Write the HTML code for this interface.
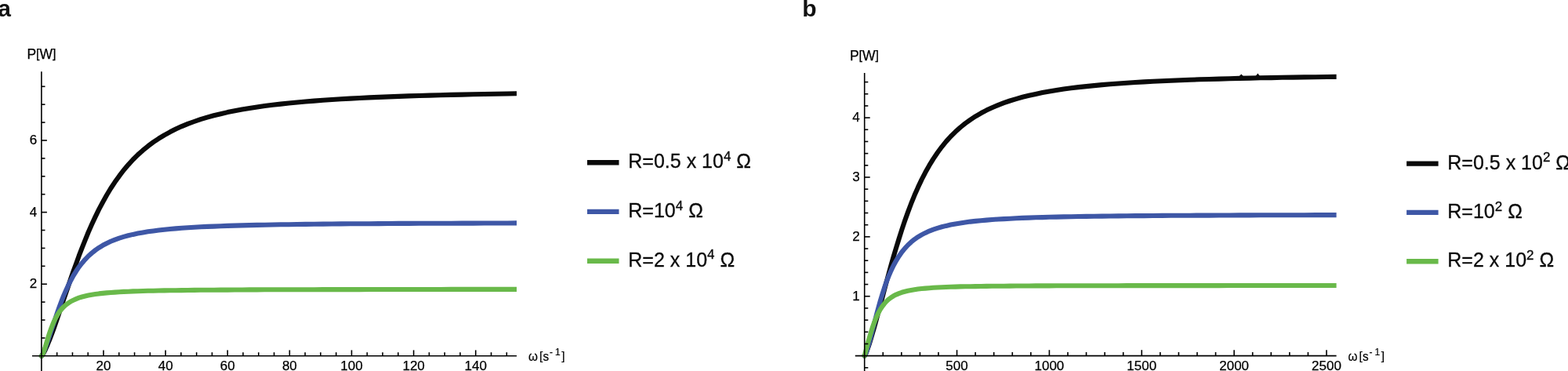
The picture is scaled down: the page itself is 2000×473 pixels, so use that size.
<!DOCTYPE html>
<html><head><meta charset="utf-8"><title>Power vs angular frequency</title><style>
html,body{margin:0;padding:0;background:#fff;}
body{width:2000px;height:473px;overflow:hidden;}
svg{display:block;}
text{font-family:"Liberation Sans", Arial, Helvetica, sans-serif;fill:#000;}
.t{font-size:17px;stroke:#000;stroke-width:0.25px;}
.lg{font-size:25px;fill:#0a0a0a;stroke:#0a0a0a;stroke-width:0.3px;}
.pl{font-size:30px;font-weight:bold;fill:#111;}
.ax{font-size:17px;stroke:#000;stroke-width:0.2px;}
.axb{font-size:15.5px;stroke:#000;stroke-width:0.2px;}
.axs{font-size:12px;stroke:#000;stroke-width:0.2px;}
</style></head><body>
<svg width="2000" height="473" viewBox="0 0 2000 473">
<defs><clipPath id="clL"><rect x="0" y="0" width="659.0" height="473"/></clipPath><clipPath id="clR"><rect x="1000" y="0" width="704.5999999999999" height="473"/></clipPath></defs>
<path d="M52.9,453.8 52.9,453.8 53.0,453.7 53.3,453.5 53.6,453.2 54.0,452.6 54.5,451.9 55.2,450.8 55.9,449.4 56.8,447.7 57.9,445.6 59.0,443.1 60.3,440.2 61.7,436.7 63.3,432.8 65.0,428.4 66.9,423.4 68.9,417.9 71.0,411.9 73.3,405.3 75.7,398.2 78.3,390.5 81.0,382.4 83.9,373.9 87.0,364.9 90.2,355.6 93.5,346.0 97.1,336.2 100.7,326.2 104.6,316.1 108.6,306.1 112.7,296.0 117.1,286.1 121.6,276.4 126.2,266.9 131.1,257.7 136.1,248.8 141.2,240.3 146.6,232.1 152.1,224.4 157.7,217.0 163.6,210.1 169.6,203.5 175.8,197.4 182.2,191.7 188.8,186.3 195.5,181.3 202.4,176.7 209.5,172.3 216.8,168.3 224.2,164.6 231.8,161.1 239.6,157.9 247.6,155.0 255.8,152.2 264.2,149.7 272.7,147.3 281.4,145.2 290.3,143.1 299.5,141.3 308.7,139.5 318.2,137.9 327.9,136.4 337.7,135.1 347.8,133.8 358.0,132.6 368.4,131.5 379.0,130.5 389.8,129.5 400.8,128.6 412.0,127.8 423.4,127.0 435.0,126.3 446.8,125.6 458.7,125.0 470.9,124.4 483.2,123.9 495.8,123.4 508.6,122.9 521.5,122.4 534.7,122.0 548.0,121.6 561.6,121.3 575.3,120.9 589.2,120.6 603.4,120.3 617.7,120.0 632.3,119.7 647.0,119.5 662.0,119.2" fill="none" stroke="#0a0a0a" stroke-width="6.1" stroke-linejoin="round" stroke-linecap="round" clip-path="url(#clL)"/>
<path d="M52.9,453.8 52.9,453.8 53.0,453.7 53.3,453.4 53.6,453.0 54.0,452.3 54.5,451.3 55.2,449.9 55.9,448.2 56.8,446.0 57.9,443.3 59.0,440.2 60.3,436.5 61.7,432.4 63.3,427.7 65.0,422.6 66.9,416.9 68.9,410.9 71.0,404.6 73.3,398.0 75.7,391.2 78.3,384.3 81.0,377.4 83.9,370.7 87.0,364.0 90.2,357.7 93.5,351.6 97.1,345.8 100.7,340.4 104.6,335.4 108.6,330.8 112.7,326.5 117.1,322.6 121.6,319.0 126.2,315.8 131.1,312.8 136.1,310.2 141.2,307.8 146.6,305.6 152.1,303.6 157.7,301.9 163.6,300.3 169.6,298.9 175.8,297.6 182.2,296.4 188.8,295.3 195.5,294.4 202.4,293.5 209.5,292.7 216.8,292.0 224.2,291.4 231.8,290.8 239.6,290.3 247.6,289.8 255.8,289.3 264.2,288.9 272.7,288.6 281.4,288.2 290.3,287.9 299.5,287.6 308.7,287.4 318.2,287.1 327.9,286.9 337.7,286.7 347.8,286.5 358.0,286.3 368.4,286.2 379.0,286.0 389.8,285.9 400.8,285.8 412.0,285.6 423.4,285.5 435.0,285.4 446.8,285.3 458.7,285.2 470.9,285.2 483.2,285.1 495.8,285.0 508.6,284.9 521.5,284.9 534.7,284.8 548.0,284.8 561.6,284.7 575.3,284.7 589.2,284.6 603.4,284.6 617.7,284.5 632.3,284.5 647.0,284.5 662.0,284.4" fill="none" stroke="#3e57a6" stroke-width="6.1" stroke-linejoin="round" stroke-linecap="round" clip-path="url(#clL)"/>
<path d="M52.9,453.8 52.9,453.8 53.0,453.7 53.3,453.6 53.6,453.2 54.0,452.5 54.5,451.5 55.2,450.0 55.9,447.9 56.8,445.2 57.9,441.9 59.0,438.1 60.3,433.8 61.7,429.2 63.3,424.3 65.0,419.4 66.9,414.5 68.9,409.8 71.0,405.5 73.3,401.4 75.7,397.7 78.3,394.4 81.0,391.4 83.9,388.8 87.0,386.5 90.2,384.4 93.5,382.7 97.1,381.1 100.7,379.7 104.6,378.5 108.6,377.5 112.7,376.6 117.1,375.8 121.6,375.1 126.2,374.4 131.1,373.9 136.1,373.4 141.2,373.0 146.6,372.6 152.1,372.2 157.7,371.9 163.6,371.7 169.6,371.4 175.8,371.2 182.2,371.0 188.8,370.8 195.5,370.7 202.4,370.5 209.5,370.4 216.8,370.3 224.2,370.2 231.8,370.1 239.6,370.0 247.6,369.9 255.8,369.8 264.2,369.7 272.7,369.7 281.4,369.6 290.3,369.6 299.5,369.5 308.7,369.5 318.2,369.4 327.9,369.4 337.7,369.3 347.8,369.3 358.0,369.3 368.4,369.2 379.0,369.2 389.8,369.2 400.8,369.2 412.0,369.1 423.4,369.1 435.0,369.1 446.8,369.1 458.7,369.1 470.9,369.0 483.2,369.0 495.8,369.0 508.6,369.0 521.5,369.0 534.7,369.0 548.0,369.0 561.6,369.0 575.3,368.9 589.2,368.9 603.4,368.9 617.7,368.9 632.3,368.9 647.0,368.9 662.0,368.9" fill="none" stroke="#69b94a" stroke-width="6.1" stroke-linejoin="round" stroke-linecap="round" clip-path="url(#clL)"/>
<path d="M1102.7,453.6 1102.7,453.6 1102.8,453.5 1103.0,453.2 1103.4,452.6 1103.8,451.8 1104.3,450.7 1105.0,449.2 1105.7,447.2 1106.6,444.8 1107.6,441.9 1108.8,438.4 1110.1,434.4 1111.5,429.7 1113.0,424.5 1114.7,418.6 1116.6,412.0 1118.5,404.8 1120.7,396.9 1122.9,388.5 1125.4,379.4 1127.9,369.8 1130.6,359.7 1133.5,349.2 1136.5,338.3 1139.7,327.2 1143.1,315.9 1146.6,304.5 1150.2,293.1 1154.0,281.8 1158.0,270.6 1162.1,259.7 1166.4,249.1 1170.9,238.9 1175.5,229.1 1180.3,219.8 1185.3,210.9 1190.4,202.6 1195.7,194.7 1201.2,187.3 1206.8,180.4 1212.6,174.0 1218.6,168.1 1224.8,162.5 1231.1,157.4 1237.6,152.7 1244.3,148.3 1251.2,144.3 1258.2,140.6 1265.4,137.2 1272.8,134.1 1280.4,131.2 1288.2,128.5 1296.1,126.1 1304.2,123.8 1312.5,121.8 1321.0,119.9 1329.7,118.1 1338.5,116.5 1347.5,115.0 1356.8,113.6 1366.2,112.3 1375.8,111.1 1385.6,110.1 1395.5,109.1 1405.7,108.1 1416.0,107.3 1426.6,106.5 1437.3,105.7 1448.2,105.0 1459.3,104.4 1470.7,103.8 1482.2,103.2 1493.8,102.7 1505.7,102.2 1517.8,101.8 1530.1,101.3 1542.6,101.0 1555.2,100.6 1568.1,100.2 1581.1,99.9 1594.4,99.6 1607.8,99.3 1621.5,99.1 1635.3,98.8 1649.4,98.6 1663.6,98.4 1678.1,98.2 1692.7,98.0 1707.6,97.8" fill="none" stroke="#0a0a0a" stroke-width="6.1" stroke-linejoin="round" stroke-linecap="round" clip-path="url(#clR)"/>
<path d="M1102.7,453.6 1102.7,453.6 1102.8,453.5 1103.0,453.2 1103.4,452.8 1103.8,452.0 1104.3,450.8 1105.0,449.1 1105.7,447.0 1106.6,444.2 1107.6,440.8 1108.8,436.8 1110.1,432.1 1111.5,426.6 1113.0,420.6 1114.7,413.9 1116.6,406.8 1118.5,399.2 1120.7,391.3 1122.9,383.3 1125.4,375.2 1127.9,367.3 1130.6,359.5 1133.5,352.1 1136.5,345.1 1139.7,338.5 1143.1,332.3 1146.6,326.7 1150.2,321.5 1154.0,316.8 1158.0,312.5 1162.1,308.7 1166.4,305.2 1170.9,302.1 1175.5,299.4 1180.3,296.9 1185.3,294.6 1190.4,292.7 1195.7,290.9 1201.2,289.3 1206.8,287.9 1212.6,286.6 1218.6,285.4 1224.8,284.4 1231.1,283.5 1237.6,282.6 1244.3,281.9 1251.2,281.2 1258.2,280.6 1265.4,280.0 1272.8,279.5 1280.4,279.1 1288.2,278.7 1296.1,278.3 1304.2,277.9 1312.5,277.6 1321.0,277.3 1329.7,277.1 1338.5,276.8 1347.5,276.6 1356.8,276.4 1366.2,276.2 1375.8,276.0 1385.6,275.9 1395.5,275.7 1405.7,275.6 1416.0,275.5 1426.6,275.4 1437.3,275.2 1448.2,275.1 1459.3,275.1 1470.7,275.0 1482.2,274.9 1493.8,274.8 1505.7,274.7 1517.8,274.7 1530.1,274.6 1542.6,274.6 1555.2,274.5 1568.1,274.5 1581.1,274.4 1594.4,274.4 1607.8,274.3 1621.5,274.3 1635.3,274.2 1649.4,274.2 1663.6,274.2 1678.1,274.1 1692.7,274.1 1707.6,274.1" fill="none" stroke="#3e57a6" stroke-width="6.1" stroke-linejoin="round" stroke-linecap="round" clip-path="url(#clR)"/>
<path d="M1102.7,453.6 1102.7,453.5 1102.8,453.1 1103.0,452.3 1103.4,451.1 1103.8,449.5 1104.3,447.5 1105.0,445.1 1105.7,442.2 1106.6,438.8 1107.6,435.1 1108.8,430.9 1110.1,426.5 1111.5,421.8 1113.0,417.0 1114.7,412.2 1116.6,407.4 1118.5,402.8 1120.7,398.4 1122.9,394.4 1125.4,390.6 1127.9,387.3 1130.6,384.3 1133.5,381.6 1136.5,379.3 1139.7,377.3 1143.1,375.6 1146.6,374.1 1150.2,372.8 1154.0,371.7 1158.0,370.7 1162.1,369.9 1166.4,369.2 1170.9,368.5 1175.5,368.0 1180.3,367.6 1185.3,367.2 1190.4,366.8 1195.7,366.5 1201.2,366.2 1206.8,366.0 1212.6,365.8 1218.6,365.6 1224.8,365.4 1231.1,365.3 1237.6,365.2 1244.3,365.1 1251.2,365.0 1258.2,364.9 1265.4,364.8 1272.8,364.7 1280.4,364.7 1288.2,364.6 1296.1,364.5 1304.2,364.5 1312.5,364.5 1321.0,364.4 1329.7,364.4 1338.5,364.4 1347.5,364.3 1356.8,364.3 1366.2,364.3 1375.8,364.2 1385.6,364.2 1395.5,364.2 1405.7,364.2 1416.0,364.2 1426.6,364.2 1437.3,364.1 1448.2,364.1 1459.3,364.1 1470.7,364.1 1482.2,364.1 1493.8,364.1 1505.7,364.1 1517.8,364.1 1530.1,364.1 1542.6,364.1 1555.2,364.1 1568.1,364.0 1581.1,364.0 1594.4,364.0 1607.8,364.0 1621.5,364.0 1635.3,364.0 1649.4,364.0 1663.6,364.0 1678.1,364.0 1692.7,364.0 1707.6,364.0" fill="none" stroke="#69b94a" stroke-width="6.1" stroke-linejoin="round" stroke-linecap="round" clip-path="url(#clR)"/>
<path d="M1580.6,97.2 L1583.3,94.6 L1586.0,97.2 Z M1601.6,97.0 L1604.3,93.4 L1607.0,97.0 Z" fill="#0a0a0a"/>
<line x1="52.9" y1="91.3" x2="52.9" y2="474" stroke="#000" stroke-width="1.6" fill="none"/>
<line x1="41.0" y1="453.8" x2="659.0" y2="453.8" stroke="#000" stroke-width="1.6" fill="none"/>
<line x1="52.9" y1="430.90" x2="57.50" y2="430.90" stroke="#000" stroke-width="1.6" fill="none"/>
<line x1="52.9" y1="408.00" x2="57.50" y2="408.00" stroke="#000" stroke-width="1.6" fill="none"/>
<line x1="52.9" y1="385.10" x2="57.50" y2="385.10" stroke="#000" stroke-width="1.6" fill="none"/>
<line x1="52.9" y1="362.20" x2="59.90" y2="362.20" stroke="#000" stroke-width="1.6" fill="none"/>
<line x1="52.9" y1="339.30" x2="57.50" y2="339.30" stroke="#000" stroke-width="1.6" fill="none"/>
<line x1="52.9" y1="316.40" x2="57.50" y2="316.40" stroke="#000" stroke-width="1.6" fill="none"/>
<line x1="52.9" y1="293.50" x2="57.50" y2="293.50" stroke="#000" stroke-width="1.6" fill="none"/>
<line x1="52.9" y1="270.60" x2="59.90" y2="270.60" stroke="#000" stroke-width="1.6" fill="none"/>
<line x1="52.9" y1="247.70" x2="57.50" y2="247.70" stroke="#000" stroke-width="1.6" fill="none"/>
<line x1="52.9" y1="224.80" x2="57.50" y2="224.80" stroke="#000" stroke-width="1.6" fill="none"/>
<line x1="52.9" y1="201.90" x2="57.50" y2="201.90" stroke="#000" stroke-width="1.6" fill="none"/>
<line x1="52.9" y1="179.00" x2="59.90" y2="179.00" stroke="#000" stroke-width="1.6" fill="none"/>
<line x1="52.9" y1="156.10" x2="57.50" y2="156.10" stroke="#000" stroke-width="1.6" fill="none"/>
<line x1="52.9" y1="133.20" x2="57.50" y2="133.20" stroke="#000" stroke-width="1.6" fill="none"/>
<line x1="52.9" y1="110.30" x2="57.50" y2="110.30" stroke="#000" stroke-width="1.6" fill="none"/>
<line x1="72.68" y1="453.8" x2="72.68" y2="449.20" stroke="#000" stroke-width="1.6" fill="none"/>
<line x1="92.46" y1="453.8" x2="92.46" y2="449.20" stroke="#000" stroke-width="1.6" fill="none"/>
<line x1="112.24" y1="453.8" x2="112.24" y2="449.20" stroke="#000" stroke-width="1.6" fill="none"/>
<line x1="132.02" y1="453.8" x2="132.02" y2="446.40" stroke="#000" stroke-width="1.6" fill="none"/>
<line x1="151.80" y1="453.8" x2="151.80" y2="449.20" stroke="#000" stroke-width="1.6" fill="none"/>
<line x1="171.58" y1="453.8" x2="171.58" y2="449.20" stroke="#000" stroke-width="1.6" fill="none"/>
<line x1="191.36" y1="453.8" x2="191.36" y2="449.20" stroke="#000" stroke-width="1.6" fill="none"/>
<line x1="211.14" y1="453.8" x2="211.14" y2="446.40" stroke="#000" stroke-width="1.6" fill="none"/>
<line x1="230.92" y1="453.8" x2="230.92" y2="449.20" stroke="#000" stroke-width="1.6" fill="none"/>
<line x1="250.70" y1="453.8" x2="250.70" y2="449.20" stroke="#000" stroke-width="1.6" fill="none"/>
<line x1="270.48" y1="453.8" x2="270.48" y2="449.20" stroke="#000" stroke-width="1.6" fill="none"/>
<line x1="290.26" y1="453.8" x2="290.26" y2="446.40" stroke="#000" stroke-width="1.6" fill="none"/>
<line x1="310.04" y1="453.8" x2="310.04" y2="449.20" stroke="#000" stroke-width="1.6" fill="none"/>
<line x1="329.82" y1="453.8" x2="329.82" y2="449.20" stroke="#000" stroke-width="1.6" fill="none"/>
<line x1="349.60" y1="453.8" x2="349.60" y2="449.20" stroke="#000" stroke-width="1.6" fill="none"/>
<line x1="369.38" y1="453.8" x2="369.38" y2="446.40" stroke="#000" stroke-width="1.6" fill="none"/>
<line x1="389.16" y1="453.8" x2="389.16" y2="449.20" stroke="#000" stroke-width="1.6" fill="none"/>
<line x1="408.94" y1="453.8" x2="408.94" y2="449.20" stroke="#000" stroke-width="1.6" fill="none"/>
<line x1="428.72" y1="453.8" x2="428.72" y2="449.20" stroke="#000" stroke-width="1.6" fill="none"/>
<line x1="448.50" y1="453.8" x2="448.50" y2="446.40" stroke="#000" stroke-width="1.6" fill="none"/>
<line x1="468.28" y1="453.8" x2="468.28" y2="449.20" stroke="#000" stroke-width="1.6" fill="none"/>
<line x1="488.06" y1="453.8" x2="488.06" y2="449.20" stroke="#000" stroke-width="1.6" fill="none"/>
<line x1="507.84" y1="453.8" x2="507.84" y2="449.20" stroke="#000" stroke-width="1.6" fill="none"/>
<line x1="527.62" y1="453.8" x2="527.62" y2="446.40" stroke="#000" stroke-width="1.6" fill="none"/>
<line x1="547.40" y1="453.8" x2="547.40" y2="449.20" stroke="#000" stroke-width="1.6" fill="none"/>
<line x1="567.18" y1="453.8" x2="567.18" y2="449.20" stroke="#000" stroke-width="1.6" fill="none"/>
<line x1="586.96" y1="453.8" x2="586.96" y2="449.20" stroke="#000" stroke-width="1.6" fill="none"/>
<line x1="606.74" y1="453.8" x2="606.74" y2="446.40" stroke="#000" stroke-width="1.6" fill="none"/>
<line x1="626.52" y1="453.8" x2="626.52" y2="449.20" stroke="#000" stroke-width="1.6" fill="none"/>
<line x1="646.30" y1="453.8" x2="646.30" y2="449.20" stroke="#000" stroke-width="1.6" fill="none"/>
<text x="47.3" y="367.20" text-anchor="end" class="t">2</text>
<text x="47.3" y="275.60" text-anchor="end" class="t">4</text>
<text x="47.3" y="184.00" text-anchor="end" class="t">6</text>
<text x="132.02" y="472.0" text-anchor="middle" class="t">20</text>
<text x="211.14" y="472.0" text-anchor="middle" class="t">40</text>
<text x="290.26" y="472.0" text-anchor="middle" class="t">60</text>
<text x="369.38" y="472.0" text-anchor="middle" class="t">80</text>
<text x="448.50" y="472.0" text-anchor="middle" class="t">100</text>
<text x="527.62" y="472.0" text-anchor="middle" class="t">120</text>
<text x="606.74" y="472.0" text-anchor="middle" class="t">140</text>
<line x1="1102.7" y1="93.0" x2="1102.7" y2="474" stroke="#000" stroke-width="1.6" fill="none"/>
<line x1="1090.8" y1="453.6" x2="1704.6" y2="453.6" stroke="#000" stroke-width="1.6" fill="none"/>
<line x1="1102.7" y1="468.77" x2="1107.30" y2="468.77" stroke="#000" stroke-width="1.6" fill="none"/>
<line x1="1102.7" y1="438.43" x2="1107.30" y2="438.43" stroke="#000" stroke-width="1.6" fill="none"/>
<line x1="1102.7" y1="423.25" x2="1107.30" y2="423.25" stroke="#000" stroke-width="1.6" fill="none"/>
<line x1="1102.7" y1="408.08" x2="1107.30" y2="408.08" stroke="#000" stroke-width="1.6" fill="none"/>
<line x1="1102.7" y1="392.90" x2="1107.30" y2="392.90" stroke="#000" stroke-width="1.6" fill="none"/>
<line x1="1102.7" y1="377.73" x2="1109.70" y2="377.73" stroke="#000" stroke-width="1.6" fill="none"/>
<line x1="1102.7" y1="362.56" x2="1107.30" y2="362.56" stroke="#000" stroke-width="1.6" fill="none"/>
<line x1="1102.7" y1="347.38" x2="1107.30" y2="347.38" stroke="#000" stroke-width="1.6" fill="none"/>
<line x1="1102.7" y1="332.21" x2="1107.30" y2="332.21" stroke="#000" stroke-width="1.6" fill="none"/>
<line x1="1102.7" y1="317.03" x2="1107.30" y2="317.03" stroke="#000" stroke-width="1.6" fill="none"/>
<line x1="1102.7" y1="301.86" x2="1109.70" y2="301.86" stroke="#000" stroke-width="1.6" fill="none"/>
<line x1="1102.7" y1="286.69" x2="1107.30" y2="286.69" stroke="#000" stroke-width="1.6" fill="none"/>
<line x1="1102.7" y1="271.51" x2="1107.30" y2="271.51" stroke="#000" stroke-width="1.6" fill="none"/>
<line x1="1102.7" y1="256.34" x2="1107.30" y2="256.34" stroke="#000" stroke-width="1.6" fill="none"/>
<line x1="1102.7" y1="241.16" x2="1107.30" y2="241.16" stroke="#000" stroke-width="1.6" fill="none"/>
<line x1="1102.7" y1="225.99" x2="1109.70" y2="225.99" stroke="#000" stroke-width="1.6" fill="none"/>
<line x1="1102.7" y1="210.82" x2="1107.30" y2="210.82" stroke="#000" stroke-width="1.6" fill="none"/>
<line x1="1102.7" y1="195.64" x2="1107.30" y2="195.64" stroke="#000" stroke-width="1.6" fill="none"/>
<line x1="1102.7" y1="180.47" x2="1107.30" y2="180.47" stroke="#000" stroke-width="1.6" fill="none"/>
<line x1="1102.7" y1="165.29" x2="1107.30" y2="165.29" stroke="#000" stroke-width="1.6" fill="none"/>
<line x1="1102.7" y1="150.12" x2="1109.70" y2="150.12" stroke="#000" stroke-width="1.6" fill="none"/>
<line x1="1102.7" y1="134.95" x2="1107.30" y2="134.95" stroke="#000" stroke-width="1.6" fill="none"/>
<line x1="1102.7" y1="119.77" x2="1107.30" y2="119.77" stroke="#000" stroke-width="1.6" fill="none"/>
<line x1="1102.7" y1="104.60" x2="1107.30" y2="104.60" stroke="#000" stroke-width="1.6" fill="none"/>
<line x1="1126.27" y1="453.6" x2="1126.27" y2="449.00" stroke="#000" stroke-width="1.6" fill="none"/>
<line x1="1149.84" y1="453.6" x2="1149.84" y2="449.00" stroke="#000" stroke-width="1.6" fill="none"/>
<line x1="1173.42" y1="453.6" x2="1173.42" y2="449.00" stroke="#000" stroke-width="1.6" fill="none"/>
<line x1="1196.99" y1="453.6" x2="1196.99" y2="449.00" stroke="#000" stroke-width="1.6" fill="none"/>
<line x1="1220.56" y1="453.6" x2="1220.56" y2="446.20" stroke="#000" stroke-width="1.6" fill="none"/>
<line x1="1244.13" y1="453.6" x2="1244.13" y2="449.00" stroke="#000" stroke-width="1.6" fill="none"/>
<line x1="1267.70" y1="453.6" x2="1267.70" y2="449.00" stroke="#000" stroke-width="1.6" fill="none"/>
<line x1="1291.28" y1="453.6" x2="1291.28" y2="449.00" stroke="#000" stroke-width="1.6" fill="none"/>
<line x1="1314.85" y1="453.6" x2="1314.85" y2="449.00" stroke="#000" stroke-width="1.6" fill="none"/>
<line x1="1338.42" y1="453.6" x2="1338.42" y2="446.20" stroke="#000" stroke-width="1.6" fill="none"/>
<line x1="1361.99" y1="453.6" x2="1361.99" y2="449.00" stroke="#000" stroke-width="1.6" fill="none"/>
<line x1="1385.56" y1="453.6" x2="1385.56" y2="449.00" stroke="#000" stroke-width="1.6" fill="none"/>
<line x1="1409.14" y1="453.6" x2="1409.14" y2="449.00" stroke="#000" stroke-width="1.6" fill="none"/>
<line x1="1432.71" y1="453.6" x2="1432.71" y2="449.00" stroke="#000" stroke-width="1.6" fill="none"/>
<line x1="1456.28" y1="453.6" x2="1456.28" y2="446.20" stroke="#000" stroke-width="1.6" fill="none"/>
<line x1="1479.85" y1="453.6" x2="1479.85" y2="449.00" stroke="#000" stroke-width="1.6" fill="none"/>
<line x1="1503.42" y1="453.6" x2="1503.42" y2="449.00" stroke="#000" stroke-width="1.6" fill="none"/>
<line x1="1527.00" y1="453.6" x2="1527.00" y2="449.00" stroke="#000" stroke-width="1.6" fill="none"/>
<line x1="1550.57" y1="453.6" x2="1550.57" y2="449.00" stroke="#000" stroke-width="1.6" fill="none"/>
<line x1="1574.14" y1="453.6" x2="1574.14" y2="446.20" stroke="#000" stroke-width="1.6" fill="none"/>
<line x1="1597.71" y1="453.6" x2="1597.71" y2="449.00" stroke="#000" stroke-width="1.6" fill="none"/>
<line x1="1621.28" y1="453.6" x2="1621.28" y2="449.00" stroke="#000" stroke-width="1.6" fill="none"/>
<line x1="1644.86" y1="453.6" x2="1644.86" y2="449.00" stroke="#000" stroke-width="1.6" fill="none"/>
<line x1="1668.43" y1="453.6" x2="1668.43" y2="449.00" stroke="#000" stroke-width="1.6" fill="none"/>
<line x1="1692.00" y1="453.6" x2="1692.00" y2="446.20" stroke="#000" stroke-width="1.6" fill="none"/>
<text x="1096.6" y="382.73" text-anchor="end" class="t">1</text>
<text x="1096.6" y="306.86" text-anchor="end" class="t">2</text>
<text x="1096.6" y="230.99" text-anchor="end" class="t">3</text>
<text x="1096.6" y="155.12" text-anchor="end" class="t">4</text>
<text x="1220.56" y="472.0" text-anchor="middle" class="t">500</text>
<text x="1338.42" y="472.0" text-anchor="middle" class="t">1000</text>
<text x="1456.28" y="472.0" text-anchor="middle" class="t">1500</text>
<text x="1574.14" y="472.0" text-anchor="middle" class="t">2000</text>
<text x="1692.00" y="472.0" text-anchor="middle" class="t">2500</text>
<text x="-2.7" y="21" class="pl">a</text>
<text x="1023.3" y="21" class="pl">b</text>
<text x="34.4" y="74.7" class="t" style="font-size:17.5px">P<tspan font-size="16" dy="-0.6">[</tspan><tspan dy="0.6">W</tspan><tspan font-size="16" dy="-0.6">]</tspan></text>
<text x="1083.9" y="76.7" class="t" style="font-size:17.5px">P<tspan font-size="16" dy="-0.6">[</tspan><tspan dy="0.6">W</tspan><tspan font-size="16" dy="-0.6">]</tspan></text>
<line x1="749.0" y1="207.2" x2="789.5" y2="207.2" stroke="#0a0a0a" stroke-width="6.4"/>
<text x="801.3" y="214.30" class="lg">R=0.5 x 10<tspan font-size="17" dy="-9.5">4</tspan><tspan dy="9.5"> Ω</tspan></text>
<line x1="749.0" y1="269.9" x2="789.5" y2="269.9" stroke="#3e57a6" stroke-width="6.4"/>
<text x="801.3" y="277.00" class="lg">R=10<tspan font-size="17" dy="-9.5">4</tspan><tspan dy="9.5"> Ω</tspan></text>
<line x1="749.0" y1="332.7" x2="789.5" y2="332.7" stroke="#69b94a" stroke-width="6.4"/>
<text x="801.3" y="339.80" class="lg">R=2 x 10<tspan font-size="17" dy="-9.5">4</tspan><tspan dy="9.5"> Ω</tspan></text>
<line x1="1794.1" y1="208.6" x2="1834.6" y2="208.6" stroke="#0a0a0a" stroke-width="6.4"/>
<text x="1846.3" y="215.70" class="lg">R=0.5 x 10<tspan font-size="17" dy="-9.5">2</tspan><tspan dy="9.5"> Ω</tspan></text>
<line x1="1794.1" y1="270.9" x2="1834.6" y2="270.9" stroke="#3e57a6" stroke-width="6.4"/>
<text x="1846.3" y="278.00" class="lg">R=10<tspan font-size="17" dy="-9.5">2</tspan><tspan dy="9.5"> Ω</tspan></text>
<line x1="1794.1" y1="333.2" x2="1834.6" y2="333.2" stroke="#69b94a" stroke-width="6.4"/>
<text x="1846.3" y="340.30" class="lg">R=2 x 10<tspan font-size="17" dy="-9.5">2</tspan><tspan dy="9.5"> Ω</tspan></text>
<text transform="matrix(0.9,0,0,1,674.0,459.8)" class="ax">ω</text><text x="687.9" y="458.9" class="axb">[</text><text transform="matrix(0.9,0,0,1,692.4,459.8)" class="ax">s</text><text x="701.0" y="452.6" class="axs">-</text><text x="708.0" y="452.6" class="axs">1</text><text x="716.2" y="458.9" class="axb">]</text>
<text transform="matrix(0.9,0,0,1,1719.5,459.8)" class="ax">ω</text><text x="1733.4" y="458.9" class="axb">[</text><text transform="matrix(0.9,0,0,1,1737.9,459.8)" class="ax">s</text><text x="1746.5" y="452.6" class="axs">-</text><text x="1753.5" y="452.6" class="axs">1</text><text x="1761.7" y="458.9" class="axb">]</text>
</svg>
</body></html>
